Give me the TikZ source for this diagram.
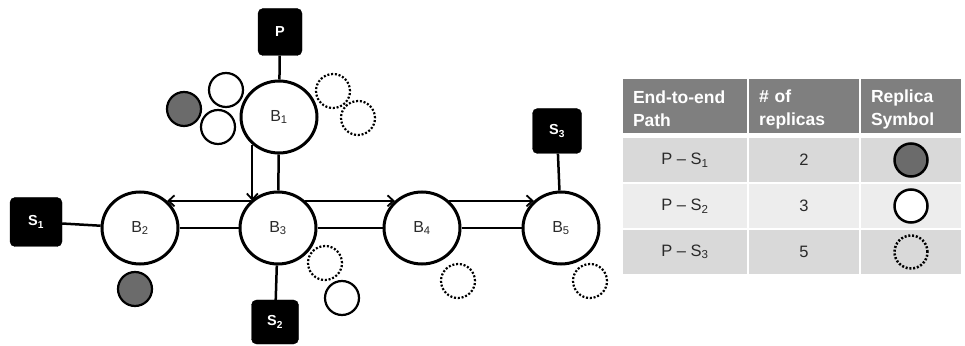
\documentclass[tikz,border=0pt]{standalone}
\usepackage{fontspec}
\setmainfont{Liberation Sans}
\usetikzlibrary{arrows.meta,shapes.geometric}
\definecolor{hdr}{HTML}{7F7F7F}
\definecolor{rowA}{HTML}{D9D9D9}
\definecolor{rowB}{HTML}{EDEDED}
\definecolor{repl}{HTML}{6B6B6B}
\definecolor{txt}{HTML}{2A2A2A}
\newcommand{\sbs}[1]{\textsubscript{#1}}
\begin{document}
\begin{tikzpicture}[x=1pt,y=1pt,
  bnode/.style={ellipse,draw,line width=3pt,minimum width=76pt,minimum height=72pt,inner sep=0pt,
    font=\fontsize{16}{19}\selectfont,text=txt},
  term/.style={rectangle,rounded corners=5pt,fill=black,draw=black,text=white,
    font=\bfseries\fontsize{14.5}{16}\selectfont,minimum width=47pt,minimum height=45pt,inner sep=0pt},
  link/.style={line width=2.5pt},
  arr/.style={line width=1.8pt,-{Straight Barb[length=6pt,width=11pt,line width=1.8pt]}},
  rep/.style={circle,draw,line width=2.2pt,minimum size=34pt,inner sep=0pt},
  repG/.style={rep,fill=repl},
  repW/.style={rep,fill=white},
  repD/.style={rep,dash pattern=on 2pt off 1.8pt},
  hcell/.style={rectangle,fill=hdr,text=white,font=\bfseries\fontsize{17.5}{23}\selectfont,
    minimum height=54pt,inner xsep=10pt,inner ysep=0pt,align=left},
  bcell/.style={rectangle,text=txt,font=\fontsize{16.5}{19}\selectfont,
    minimum height=44pt,inner sep=0pt,align=center}
]
\useasboundingbox (0,0) rectangle (965,345);

% terminals
\node[term,minimum width=44pt,minimum height=47pt] (P) at (280,313) {P};
\node[term,minimum width=52pt,minimum height=49pt] (S1) at (36,123) {S\sbs{1}};
\node[term,minimum width=47pt,minimum height=44pt] (S2) at (275,23) {S\sbs{2}};
\node[term,minimum width=49pt,minimum height=45pt] (S3) at (557,214) {S\sbs{3}};

% brokers
\node[bnode] (B1) at (279,228) {B\sbs{1}};
\node[bnode] (B2) at (140,117) {B\sbs{2}};
\node[bnode] (B3) at (278,117) {B\sbs{3}};
\node[bnode] (B4) at (422,117) {B\sbs{4}};
\node[bnode] (B5) at (561,117) {B\sbs{5}};

% links
\draw[link] (P) -- (B1);
\draw[link] (B1) -- (B3);
\draw[link] (B2) -- (B3);
\draw[link] (B3) -- (B4);
\draw[link] (B4) -- (B5);
\draw[link] (S1) -- (B2);
\draw[link] (B3) -- (S2);
\draw[link] (S3) -- (B5);

% arrows
\draw[arr] (B1.226) -- (B1.226 |- B3.135);
\draw[arr] (B3.135) -- (B2.45);
\draw[arr] (B3.45) -- (B4.135);
\draw[arr] (B4.45) -- (B5.135);

% replicas
\node[repG] (g1) at (184,236) {};
\node[repW] (w1) at (226,255) {};
\node[repW] (w2) at (218,218) {};
\node[repD] (d1) at (333,254) {};
\node[repD] (d2) at (358,227) {};
\node[repG] (g2) at (135,56) {};
\node[repD] (d3) at (325,82) {};
\node[repW] (w3) at (342,47) {};
\node[repD] (d4) at (458,64) {};
\node[repD] (d5) at (590,64) {};

% table header
\node[hcell,text width=104pt] (h1) at (685,239) {\rule{0pt}{19pt}End-to-end\\Path};
\node[hcell,text width=90pt] (h2) at (804,239) {\rule{0pt}{19pt}\# of\\replicas};
\node[hcell,text width=80pt] (h3) at (911,239) {\rule{0pt}{19pt}Replica\\Symbol};

% table rows
\node[bcell,fill=rowA,minimum width=124pt] (r1a) at (685,185) {P -- S\sbs{1}};
\node[bcell,fill=rowA,minimum width=110pt] (r1b) at (804,185) {2};
\node[bcell,fill=rowA,minimum width=100pt] (r1c) at (911,185) {};
\node[bcell,fill=rowB,minimum width=124pt] (r2a) at (685,139) {P -- S\sbs{2}};
\node[bcell,fill=rowB,minimum width=110pt] (r2b) at (804,139) {3};
\node[bcell,fill=rowB,minimum width=100pt] (r2c) at (911,139) {};
\node[bcell,fill=rowA,minimum width=124pt] (r3a) at (685,93) {P -- S\sbs{3}};
\node[bcell,fill=rowA,minimum width=110pt] (r3b) at (804,93) {5};
\node[bcell,fill=rowA,minimum width=100pt] (r3c) at (911,93) {};

% symbols
\node[repG,line width=2.5pt,minimum size=33pt] (sg) at (r1c) {};
\node[repW,line width=2.5pt,minimum size=33pt] (sw) at (r2c) {};
\node[repD,line width=2.5pt,minimum size=33pt] (sd) at (r3c) {};
\end{tikzpicture}
\end{document}
